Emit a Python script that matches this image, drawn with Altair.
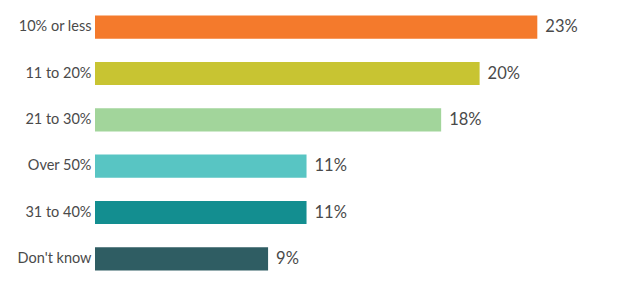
import altair as alt
import pandas as pd

categories = ["10% or less", "11 to 20%", "21 to 30%", "Over 50%", "31 to 40%", "Don't know"]
values = [23, 20, 18, 11, 11, 9]
colors = ["#F47A2C", "#C8C432", "#A2D59B", "#58C5C3", "#138E90", "#2F5D63"]

df = pd.DataFrame({"cat": categories, "val": values, "col": colors,
                   "lab": [f"{v}%" for v in values]})

y = alt.Y("cat:N", sort=categories, title=None,
          scale=alt.Scale(paddingInner=0.5, paddingOuter=0.25),
          axis=alt.Axis(ticks=False, domain=False, labelPadding=4,
                        labelFont="Lato", labelFontSize=14.5, labelColor="#4a4a4a"))
x = alt.X("val:Q", title=None, scale=alt.Scale(domain=[0, 26], nice=False), axis=None)

bars = alt.Chart(df).mark_bar().encode(
    x=x, y=y, color=alt.Color("col:N", scale=None)
)
text = alt.Chart(df).mark_text(align="left", dx=8, font="Lato", fontSize=16.5,
                               color="#4a4a4a").encode(
    x=x, y=y, text="lab:N"
)

chart = (bars + text).properties(
    width=500, height=278,
    autosize=alt.AutoSizeParams(type="none"),
    padding={"left": 95, "top": 4, "right": 23, "bottom": 23},
).configure_view(stroke=None)

chart.save("out.html", embed_options={"renderer": "svg", "actions": False})
